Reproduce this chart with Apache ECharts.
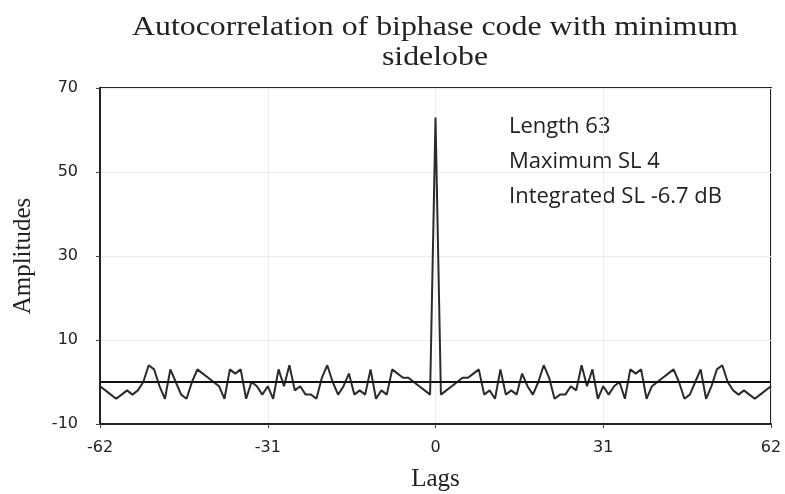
<!DOCTYPE html>
<html>
<head>
<meta charset="utf-8">
<script src="https://cdn.jsdelivr.net/npm/echarts@6/dist/echarts.min.js"></script>
<style>
  html, body { margin: 0; padding: 0; background: #fff; }
  #chart { width: 785px; height: 494px; }
</style>
</head>
<body>
<div id="chart"></div>
<script>
// autocorrelation amplitudes, lag -62 ... 62
const amplitudes = [
  -1, -2, -3, -4, -3, -2, -3, -2, 0, 4, 3, -1, -4, 3, 0, -3, -4, 0, 3, 2, 1,
  0, -1, -4, 3, 2, 3, -4, 0, -1, -3, -1, -4, 3, -1, 4, -2, -1, -3, -3, -4,
  1, 4, 0, -3, -1, 2, -3, -2, -3, 3, -4, -2, -3, 3, 2, 1, 1, 0, -1, -2, -3,
  63,
  -3, -2, -1, 0, 1, 1, 2, 3, -3, -2, -4, 3, -3, -2, -3, 2, -1, -3, 0, 4, 1,
  -4, -3, -3, -1, -2, 4, -1, 3, -4, -1, -3, -1, 0, -4, 3, 2, 3, -4, -1, 0,
  1, 2, 3, 0, -4, -3, 0, 3, -4, -1, 3, 4, 0, -2, -3, -2, -3, -4, -3, -2, -1
];
const firstLag = -62;
const xTicks = [-62, -31, 0, 31, 62];
const yTicks = [-10, 10, 30, 50, 70];

const titleLines = ["Autocorrelation of biphase code with minimum", "sidelobe"];
const infoLines = ["Length 63", "Maximum SL 4", "Integrated SL -6.7 dB"];

const points = amplitudes.map((v, i) => [firstLag + i, v]);

const chart = echarts.init(document.getElementById("chart"));

const serif = "Liberation Serif";
const sans = "DejaVu Sans";

const titleGraphics = titleLines.map((t, i) => ({
  type: "text",
  x: 435,
  y: 28 + i * 30,
  scaleX: 1.18,
  style: {
    text: t,
    fontFamily: serif,
    fontSize: 27,
    fill: "#222",
    textAlign: "center",
    textVerticalAlign: "middle"
  }
}));

const infoGraphics = infoLines.map((t, i) => ({
  type: "text",
  x: 509,
  y: 127 + i * 35,
  style: {
    text: t,
    fontFamily: "Open Sans",
    fontSize: 22,
    fill: "#222",
    textVerticalAlign: "middle"
  }
}));

chart.setOption({
  animation: false,
  grid: {
    left: 100,
    right: 14,
    top: 88,
    bottom: 70,
    outerBoundsMode: "none",
    containLabel: false,
    show: true,
    borderColor: "#222",
    borderWidth: 2
  },
  xAxis: {
    type: "value",
    min: -62,
    max: 62,
    interval: 31,
    name: "Lags",
    nameLocation: "middle",
    nameGap: 43,
    nameTextStyle: { fontFamily: serif, fontSize: 25, color: "#222" },
    axisLine: { show: true, onZero: false, lineStyle: { color: "#222", width: 2 } },
    axisTick: { show: true, length: 4, lineStyle: { color: "#444" }, customValues: xTicks },
    axisLabel: {
      customValues: xTicks,
      fontFamily: sans,
      fontSize: 16,
      color: "#222",
      margin: 16
    },
    splitLine: { show: true, lineStyle: { color: "#ececec", width: 1 } }
  },
  yAxis: {
    type: "value",
    min: -10,
    max: 70,
    name: "Amplitudes",
    nameLocation: "middle",
    nameGap: 64,
    nameTextStyle: { fontFamily: serif, fontSize: 25, color: "#222" },
    axisLine: { show: true, onZero: false, lineStyle: { color: "#222", width: 2 } },
    axisTick: { show: true, length: 4, lineStyle: { color: "#444" }, customValues: yTicks },
    axisLabel: {
      customValues: yTicks,
      fontFamily: sans,
      fontSize: 16,
      color: "#222",
      margin: 22
    },
    splitLine: { show: true, lineStyle: { color: "#ececec", width: 1 } }
  },
  graphic: titleGraphics.concat(infoGraphics),
  series: [
    {
      type: "line",
      data: points,
      showSymbol: false,
      symbol: "none",
      lineStyle: { color: "#2b2b2b", width: 2 },
      markLine: {
        silent: true,
        symbol: "none",
        label: { show: false },
        lineStyle: { color: "#111", width: 2, type: "solid" },
        data: [{ yAxis: 0 }]
      }
    }
  ]
});
</script>
</body>
</html>
